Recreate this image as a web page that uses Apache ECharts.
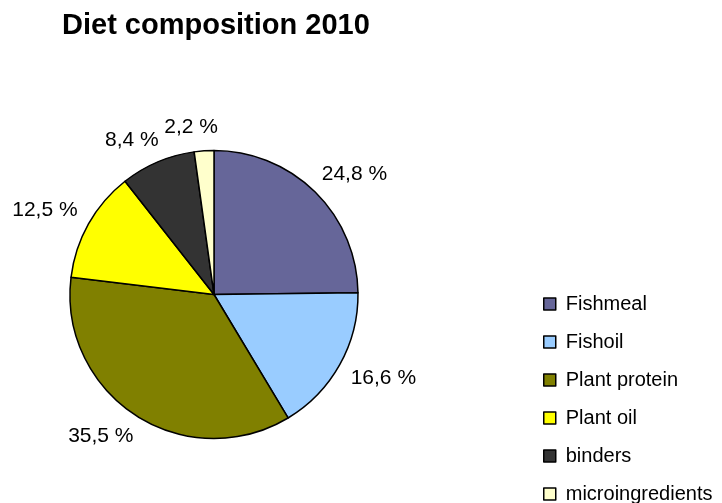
<!DOCTYPE html>
<html><head><meta charset="utf-8">
<script src="https://cdn.jsdelivr.net/npm/echarts@6/dist/echarts.min.js"></script>
<style>html,body{margin:0;padding:0;background:#fff}#c{width:722px;height:503px}</style>
</head><body><div id="c"></div>
<script>
const categories = ['Fishmeal', 'Fishoil', 'Plant protein', 'Plant oil', 'binders', 'microingredients'];
const values = [24.8, 16.6, 35.5, 12.5, 8.4, 2.2];
const colors = ['#666699', '#99CCFF', '#808000', '#FFFF00', '#333333', '#FFFFCC'];
const titleText = 'Diet composition 2010';

const CX = 214, CY = 294.5, R = 144, GAP = 14;
const total = values.reduce((a, b) => a + b, 0);
const mids = [];
let acc = 0;
values.forEach(v => { mids.push((acc + v / 2) / total * 2 * Math.PI); acc += v; });

const chart = echarts.init(document.getElementById('c'), null, { renderer: 'canvas' });
chart.setOption({
  animation: false,
  title: {
    text: titleText, left: 62, top: 11, padding: 0,
    textStyle: { fontFamily: 'Liberation Sans', fontSize: 29, fontWeight: 'bold', color: '#000' }
  },
  legend: {
    orient: 'vertical', left: 543, top: 294, height: 230, padding: 0,
    itemWidth: 12, itemHeight: 12, itemGap: 18,
    icon: 'rect', selectedMode: false, data: categories,
    textStyle: { fontFamily: 'Liberation Sans', fontSize: 20, color: '#000', padding: [0, 0, 0, 5] },
    itemStyle: { borderColor: '#000', borderWidth: 1.5 }
  },
  series: [{
    type: 'pie', center: [CX, CY], radius: R, startAngle: 90, clockwise: true,
    data: categories.map((n, i) => ({ name: n, value: values[i], itemStyle: { color: colors[i] } })),
    itemStyle: { borderColor: '#000', borderWidth: 1.5 },
    label: {
      show: true, position: 'outside', overflow: 'none',
      formatter: p => p.value.toFixed(1).replace('.', ',') + ' %',
      fontFamily: 'Liberation Sans', fontSize: 21, color: '#000'
    },
    labelLine: { show: false },
    emphasis: { disabled: true },
    labelLayout: function (p) {
      const a = mids[p.dataIndex];
      const ux = Math.sin(a), uy = -Math.cos(a);
      const w = p.labelRect.width, h = p.labelRect.height;
      const sx = Math.sign(ux) * Math.pow(Math.abs(ux), 0.3);
      const sy = Math.sign(uy) * Math.sqrt(Math.abs(uy));
      return {
        x: CX + (R + GAP) * ux + w / 2 * sx,
        y: CY + (R + GAP) * uy + h / 2 * sy * 0.9,
        align: 'center', verticalAlign: 'middle'
      };
    }
  }]
});
</script></body></html>
